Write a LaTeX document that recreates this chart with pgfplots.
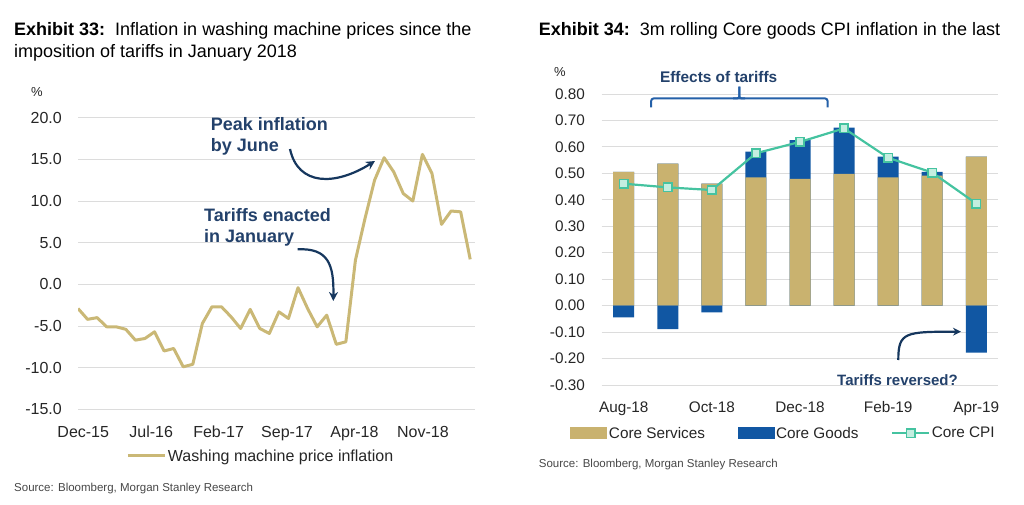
\documentclass[border=0pt]{standalone}
\usepackage{fontspec}
\setmainfont{Liberation Sans}
\usepackage{pgfplots}
\usepackage{pgfplotstable}
\pgfplotsset{compat=1.18}
\usetikzlibrary{arrows.meta}
\definecolor{tanc}{RGB}{201,178,111}
\definecolor{linetan}{RGB}{202,184,118}
\definecolor{bluebar}{RGB}{17,87,163}
\definecolor{tealc}{RGB}{69,195,160}
\definecolor{mint}{RGB}{196,238,224}
\definecolor{navytxt}{RGB}{35,65,107}
\definecolor{arrowc}{RGB}{22,55,94}
\definecolor{bracketc}{RGB}{36,96,168}
\definecolor{gridc}{RGB}{220,220,220}
\definecolor{txt}{RGB}{38,38,38}

\pgfplotstableread{
i v
0 -2.9
1 -4.2
2 -4.0
3 -5.1
4 -5.1
5 -5.4
6 -6.7
7 -6.5
8 -5.7
9 -8.0
10 -7.7
11 -9.9
12 -9.6
13 -4.7
14 -2.7
15 -2.7
16 -3.9
17 -5.3
18 -3.0
19 -5.3
20 -5.9
21 -3.3
22 -4.1
23 -0.4
24 -2.9
25 -5.1
26 -3.7
27 -7.2
28 -6.9
29 2.9
30 7.9
31 12.5
32 15.2
33 13.5
34 10.9
35 10.0
36 15.6
37 13.3
38 7.2
39 8.8
40 8.7
41 3.0
}\washing

\pgfplotstableread{
i serv gpos gneg cpi
0 0.506 0     -0.044 0.461
1 0.537 0     -0.089 0.447
2 0.461 0     -0.025 0.437
3 0.485 0.097 0      0.576
4 0.479 0.147 0      0.619
5 0.498 0.175 0      0.670
6 0.485 0.078 0      0.559
7 0.491 0.015 0      0.503
8 0.563 0     -0.178 0.386
}\cpi

\pgfplotsset{
  servlegend/.style={legend image code/.code={\fill[tanc] (0pt,-6pt) rectangle (37pt,6pt);}},
  goodslegend/.style={legend image code/.code={\fill[bluebar] (0pt,-6pt) rectangle (37pt,6pt);}},
  cpilegend/.style={legend image code/.code={%
    \draw[tealc, line width=2.2pt] (0pt,0pt) -- (37pt,0pt);
    \draw[tealc, fill=mint, line width=1.6pt] (14.3pt,-4.2pt) rectangle (22.7pt,4.2pt);}},
}

\begin{document}
\begin{tikzpicture}
\useasboundingbox (0pt,0pt) rectangle (1024pt,504pt);

% ---- titles
\node[anchor=base west, inner sep=0pt, text=black, font=\fontsize{18}{20}\selectfont] at (14pt,468pt) {\textbf{Exhibit 33:}\ \ Inflation in washing machine prices since the};
\node[anchor=base west, inner sep=0pt, text=black, font=\fontsize{18}{20}\selectfont] at (14pt,446pt) {imposition of tariffs in January 2018};
\node[anchor=base west, inner sep=0pt, text=black, font=\fontsize{18}{20}\selectfont] at (538.7pt,468pt) {\textbf{Exhibit 34:}\ \ 3m rolling Core goods CPI inflation in the last};

\node[inner sep=0pt, text=txt, font=\fontsize{13}{15}\selectfont] at (37pt,411.5pt) {\%};
\node[inner sep=0pt, text=txt, font=\fontsize{13}{15}\selectfont] at (560pt,432pt) {\%};

\node[anchor=west, inner sep=0pt, text=txt!85, font=\fontsize{11.5}{13}\selectfont] at (14pt,15.7pt) {Source: Bloomberg, Morgan Stanley Research};
\node[anchor=west, inner sep=0pt, text=txt!85, font=\fontsize{11.5}{13}\selectfont] at (538.7pt,39pt) {Source: Bloomberg, Morgan Stanley Research};

% ---- left chart
\begin{axis}[
  at={(78pt,94.7pt)}, anchor=south west, scale only axis,
  width=397pt, height=291.6pt,
  xmin=0, xmax=41.5, ymin=-15, ymax=20,
  axis x line*=bottom, axis y line*=left,
  axis line style={draw=none}, major tick length=0pt,
  ymajorgrids, grid style={draw=gridc, line width=0.9pt},
  ytick={-15,-10,-5,0,5,10,15,20},
  yticklabels={-15.0,-10.0,-5.0,0.0,5.0,10.0,15.0,20.0},
  xtick={0.55,7.65,14.7,21.85,28.9,36.05},
  xticklabels={Dec-15,Jul-16,Feb-17,Sep-17,Apr-18,Nov-18},
  tick label style={font=\fontsize{16}{18}\selectfont, text=txt},
  yticklabel style={anchor=east, inner sep=0pt, xshift=-16pt},
  xticklabel style={anchor=base, inner sep=0pt, yshift=-28.1pt},
  legend style={at={(0.122,-0.160)}, anchor=west, draw=none, fill=none,
    inner sep=0pt, outer sep=0pt, font=\fontsize{16}{18}\selectfont, text=txt,
    nodes={inner xsep=1.5pt, inner ysep=0pt}},
  legend image code/.code={\draw[linetan, line width=3pt] (0pt,0pt) -- (37pt,0pt);},
]
\addplot[color=linetan, line width=3pt, line join=round] table[x=i, y=v] {\washing};
\addlegendentry{Washing machine price inflation}
\end{axis}

% left annotations
\begin{scope}[x=1pt, y=1pt]
\node[anchor=mid west, inner sep=0pt, text=navytxt, font=\bfseries\fontsize{18}{20}\selectfont] at (210.7,376) {Peak inflation};
\node[anchor=mid west, inner sep=0pt, text=navytxt, font=\bfseries\fontsize{18}{20}\selectfont] at (210.7,355) {by June};
\draw[arrowc, line width=2.2pt, -{Stealth[length=9pt,width=9pt]}] (290,355) .. controls (298,318) and (335,318) .. (375,343);
\node[anchor=mid west, inner sep=0pt, text=navytxt, font=\bfseries\fontsize{18}{20}\selectfont] at (204,285.6) {Tariffs enacted};
\node[anchor=mid west, inner sep=0pt, text=navytxt, font=\bfseries\fontsize{18}{20}\selectfont] at (204,264) {in January};
\draw[arrowc, line width=2.2pt, -{Stealth[length=9pt,width=9pt]}] (297.7,254.7) .. controls (328,256) and (334,240) .. (333.3,203);
\end{scope}

% ---- right chart
\begin{axis}[
  at={(601.7pt,119pt)}, anchor=south west, scale only axis,
  width=396.6pt, height=291pt,
  xmin=-0.5, xmax=8.5, ymin=-0.3, ymax=0.8,
  axis x line*=bottom, axis y line*=left,
  axis line style={draw=none}, major tick length=0pt,
  ymajorgrids, grid style={draw=gridc, line width=0.9pt},
  ytick={-0.3,-0.2,-0.1,0,0.1,0.2,0.3,0.4,0.5,0.6,0.7,0.8},
  yticklabels={-0.30,-0.20,-0.10,0.00,0.10,0.20,0.30,0.40,0.50,0.60,0.70,0.80},
  xtick={0,2,4,6,8},
  xticklabels={Aug-18,Oct-18,Dec-18,Feb-19,Apr-19},
  tick label style={font=\fontsize{15.3}{17}\selectfont, text=txt},
  yticklabel style={anchor=east, inner sep=0pt, xshift=-16.7pt},
  xticklabel style={anchor=base, inner sep=0pt, yshift=-27.8pt},
  legend columns=3,
  legend style={at={(-0.0787,-0.166)}, anchor=west, draw=none, fill=none,
    inner sep=0pt, outer sep=0pt, font=\fontsize{15.3}{17}\selectfont, text=txt,
    nodes={inner xsep=1.5pt, inner ysep=0pt},
    /tikz/every even column/.append style={column sep=31pt}},
]
\addplot[ybar, bar width=21pt, bar shift=0pt, fill=bluebar, draw=none, forget plot]
  table[x=i, y expr=\thisrow{serv}+\thisrow{gpos}] {\cpi};
\addplot[ybar, bar width=21pt, bar shift=0pt, fill=tanc, draw=none, servlegend]
  table[x=i, y=serv] {\cpi};
\addlegendentry{Core Services}
\addplot[ybar, bar width=21pt, bar shift=0pt, fill=bluebar, draw=none, goodslegend]
  table[x=i, y=gneg] {\cpi};
\addlegendentry{Core Goods}
\addplot[color=tealc, line width=2.2pt, mark=square*, mark size=4.2pt,
  mark options={fill=mint, draw=tealc, line width=1.6pt}, cpilegend]
  table[x=i, y=cpi] {\cpi};
\addlegendentry{Core CPI}
\end{axis}

% right annotations
\begin{scope}[x=1pt, y=1pt]
\node[inner sep=0pt, text=navytxt, font=\bfseries\fontsize{15.4}{17}\selectfont] at (718.7,427.3) {Effects of tariffs};
\draw[bracketc, line width=2pt, rounded corners=3pt] (651,396.7) -- (651,405.7) -- (827.7,405.7) -- (827.7,396.7);
\draw[bracketc, line width=2pt, rounded corners=2pt] (733,405.7) -- (739.3,405.7) -- (739.3,417.3);
\draw[bracketc, line width=2pt, rounded corners=2pt] (745,405.7) -- (739.3,405.7) -- (739.3,417.3);
\node[inner sep=0pt, text=navytxt, font=\bfseries\fontsize{15}{17}\selectfont] at (897.5,124) {Tariffs reversed?};
\draw[arrowc, line width=2.2pt, -{Stealth[length=8pt,width=8pt]}] (898.3,144) .. controls (898.3,172) and (905,172.3) .. (961,172.3);
\end{scope}
\end{tikzpicture}
\end{document}
